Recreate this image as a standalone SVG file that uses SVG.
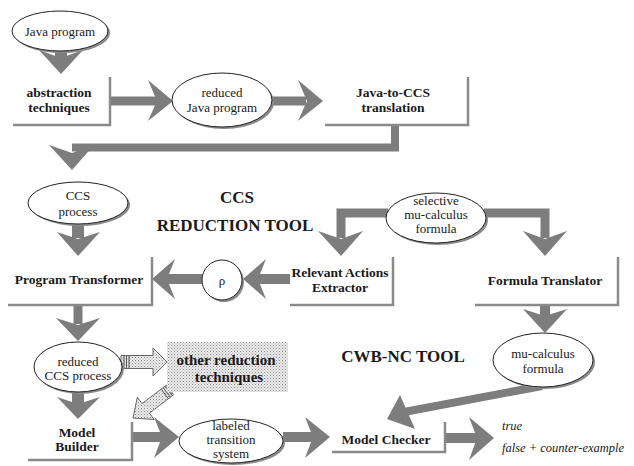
<svg xmlns="http://www.w3.org/2000/svg" width="634" height="466" viewBox="0 0 634 466">
<defs>
<pattern id="dots" width="3" height="3" patternUnits="userSpaceOnUse">
<rect width="3" height="3" fill="#ececec"/>
<rect x="0" y="0" width="1" height="1" fill="#8a8a8a"/>
<rect x="1.5" y="1.5" width="1" height="1" fill="#a8a8a8"/>
</pattern>
<style>
.ar{fill:#7d7d7d;stroke:none}
.sh{fill:none;stroke:#7d7d7d}
.bx{fill:none;stroke:#8a8a8a;stroke-width:2.5}
.el{fill:#fff;stroke:#222;stroke-width:1}
.es{fill:#8a8a8a}
text{font-family:"Liberation Serif","Times New Roman",serif;fill:#1a1a1a;text-anchor:middle}
.n{font-size:13px}
.b{font-size:13.5px;font-weight:bold}
.t{font-size:17px;font-weight:bold}
.i{font-size:12.5px;font-style:italic;text-anchor:start}
.da{fill:url(#dots);stroke:#666;stroke-width:1}
.st{stroke:#555;stroke-width:1}
</style>
</defs>

<g id="connectors">
<!-- Java program -> abstraction -->
<line class="sh" x1="61" y1="48" x2="61" y2="58" stroke-width="12"/>
<polygon class="ar" points="39,50 61,58 83,50 61,74"/>
<!-- abstraction -> reduced Java -->
<line class="sh" x1="110" y1="101" x2="158" y2="101" stroke-width="9"/>
<polygon class="ar" points="148,80 157,101 148,121 173,101"/>
<!-- reduced Java -> Java-to-CCS -->
<line class="sh" x1="272" y1="101" x2="306" y2="101" stroke-width="9"/>
<polygon class="ar" points="298,80 307,101 298,121 323,101"/>
<!-- Java-to-CCS -> CCS process -->
<polyline class="sh" points="395,125 395,147.5 72,147.5" stroke-width="8" fill="none"/>
<polygon class="ar" points="49,145 72,153 94,145 72,170"/>
<!-- CCS process -> Program Transformer -->
<line class="sh" x1="78" y1="224" x2="78" y2="238" stroke-width="12"/>
<polygon class="ar" points="57,232 78,239 100,232 78,256"/>
<!-- rho -> Program Transformer -->
<line class="sh" x1="202" y1="279" x2="166" y2="279" stroke-width="10"/>
<polygon class="ar" points="175,259 167,279 175,299 152,279"/>
<!-- Relevant -> rho -->
<line class="sh" x1="290" y1="279" x2="257" y2="279" stroke-width="10"/>
<polygon class="ar" points="266,259 258,279 266,299 243,279"/>
<!-- selective -> Relevant -->
<polyline class="sh" points="388,213 341,213 341,238" stroke-width="9" fill="none"/>
<polygon class="ar" points="318,231 341,239 363,231 341,256"/>
<!-- selective -> Formula Translator -->
<polyline class="sh" points="484,213 545,213 545,238" stroke-width="9" fill="none"/>
<polygon class="ar" points="523,231 545,239 567,231 545,256"/>
<!-- Formula Translator -> mu-calculus formula -->
<line class="sh" x1="545" y1="305" x2="545" y2="316" stroke-width="10"/>
<polygon class="ar" points="523,309 545,316 567,309 545,333"/>
<!-- Program Transformer -> reduced CCS -->
<line class="sh" x1="78" y1="305" x2="78" y2="324" stroke-width="9"/>
<polygon class="ar" points="56,318 78,325 100,318 78,341"/>
<!-- reduced CCS -> Model Builder -->
<line class="sh" x1="78" y1="391" x2="78" y2="404" stroke-width="12"/>
<polygon class="ar" points="57,397 78,404 100,397 78,419"/>
<!-- Model Builder -> LTS -->
<line class="sh" x1="132" y1="437" x2="163" y2="437" stroke-width="10"/>
<polygon class="ar" points="154,417 162,437 154,458 179,437"/>
<!-- LTS -> Model Checker -->
<line class="sh" x1="283" y1="437" x2="313" y2="437" stroke-width="10"/>
<polygon class="ar" points="305,417 313,437 305,458 330,437"/>
<!-- mu-calculus formula -> Model Checker -->
<line class="sh" x1="542" y1="386" x2="404" y2="412" stroke-width="8"/>
<polygon class="ar" points="400,395 407,411 415,429 387,419"/>
<!-- Model Checker -> results -->
<line class="sh" x1="445" y1="438" x2="478" y2="438" stroke-width="10"/>
<polygon class="ar" points="469,417 477,438 469,460 494,438"/>
<!-- reduced CCS -> other reduction techniques (dotted) -->
<polygon class="da" points="121,355.5 153,355.5 153,348 167,362 153,376 153,368.5 121,368.5"/>
<g class="st">
<line x1="124" y1="356" x2="124" y2="368"/>
<line x1="126.5" y1="356" x2="126.5" y2="368"/>
<line x1="129" y1="356" x2="129" y2="368"/>
</g>
<!-- other reduction techniques -> Model Builder (dotted) -->
<polygon class="da" points="166.4,385.2 142.1,403.6 137.3,397.2 133,418 154.2,419.5 149.4,413.1 173.6,394.8"/>
<g class="st">
<line x1="165.2" y1="386.2" x2="172.4" y2="395.8"/>
<line x1="163.2" y1="387.7" x2="170.4" y2="397.3"/>
<line x1="161.2" y1="389.2" x2="168.4" y2="398.8"/>
</g>
</g>

<g id="java-program">
<ellipse class="es" cx="62" cy="33" rx="48" ry="20"/>
<ellipse class="el" cx="60" cy="31" rx="48" ry="20"/>
<text class="n" x="60" y="36">Java program</text>
</g>

<g id="abstraction">
<polyline class="bx" points="13,125 110,125 110,77"/>
<text class="b" x="59" y="97">abstraction</text>
<text class="b" x="59" y="112">techniques</text>
</g>

<g id="reduced-java">
<ellipse class="es" cx="224" cy="102" rx="50" ry="27"/>
<ellipse class="el" cx="222" cy="100" rx="50" ry="27"/>
<text class="n" x="222" y="97">reduced</text>
<text class="n" x="222" y="112">Java program</text>
</g>

<g id="java-to-ccs">
<polyline class="bx" points="325,125 468,125 468,77"/>
<text class="b" x="393" y="97">Java-to-CCS</text>
<text class="b" x="393" y="112">translation</text>
</g>

<g id="ccs-process">
<ellipse class="es" cx="80" cy="205" rx="50" ry="21"/>
<ellipse class="el" cx="78" cy="203" rx="50" ry="21"/>
<text class="n" x="78" y="200">CCS</text>
<text class="n" x="78" y="216">process</text>
</g>

<g id="title-ccs">
<text class="t" x="237" y="203">CCS</text>
<text class="t" x="235" y="231">REDUCTION TOOL</text>
</g>

<g id="program-transformer">
<polyline class="bx" points="8,305 152,305 152,257"/>
<text class="b" x="79" y="284">Program Transformer</text>
</g>

<g id="rho">
<ellipse class="es" cx="224" cy="282" rx="20" ry="20"/>
<ellipse class="el" cx="222" cy="280" rx="20" ry="20"/>
<text class="n" x="222" y="285">ρ</text>
</g>

<g id="relevant-actions">
<polyline class="bx" points="290,305 393,305 393,257"/>
<text class="b" x="340" y="277">Relevant Actions</text>
<text class="b" x="340" y="292">Extractor</text>
</g>

<g id="selective-formula">
<ellipse class="es" cx="438" cy="220" rx="50" ry="25"/>
<ellipse class="el" cx="436" cy="218" rx="50" ry="25"/>
<text class="n" x="436" y="205">selective</text>
<text class="n" x="436" y="219">mu-calculus</text>
<text class="n" x="436" y="233">formula</text>
</g>

<g id="formula-translator">
<polyline class="bx" points="475,305 618,305 618,257"/>
<text class="b" x="545" y="285">Formula Translator</text>
</g>

<g id="mu-formula">
<ellipse class="es" cx="545" cy="362" rx="50" ry="27"/>
<ellipse class="el" cx="543" cy="360" rx="50" ry="27"/>
<text class="n" x="543" y="358">mu-calculus</text>
<text class="n" x="543" y="373">formula</text>
</g>

<g id="title-cwb">
<text class="t" x="403" y="362">CWB-NC TOOL</text>
</g>

<g id="reduced-ccs">
<ellipse class="es" cx="80" cy="369" rx="44" ry="25"/>
<ellipse class="el" cx="78" cy="367" rx="44" ry="25"/>
<text class="n" x="78" y="366">reduced</text>
<text class="n" x="78" y="380">CCS process</text>
</g>

<g id="other-reduction">
<rect x="167" y="342" width="121" height="50" fill="url(#dots)"/>
<text x="226" y="365" style="font-size:15px;font-weight:bold">other reduction</text>
<text x="229" y="382" style="font-size:15px;font-weight:bold">techniques</text>
</g>

<g id="model-builder">
<polyline class="bx" points="28,460 132,460 132,422"/>
<text class="b" x="77" y="437">Model</text>
<text class="b" x="77" y="451">Builder</text>
</g>

<g id="lts">
<ellipse class="es" cx="233" cy="443" rx="52" ry="22"/>
<ellipse class="el" cx="231" cy="441" rx="52" ry="22"/>
<text class="n" x="231" y="430">labeled</text>
<text class="n" x="231" y="444">transition</text>
<text class="n" x="231" y="458">system</text>
</g>

<g id="model-checker">
<polyline class="bx" points="332,452 445,452 445,422"/>
<text class="b" x="386" y="444">Model Checker</text>
</g>

<g id="results">
<text class="i" x="502" y="430">true</text>
<text class="i" x="502" y="452">false + counter-example</text>
</g>
</svg>
